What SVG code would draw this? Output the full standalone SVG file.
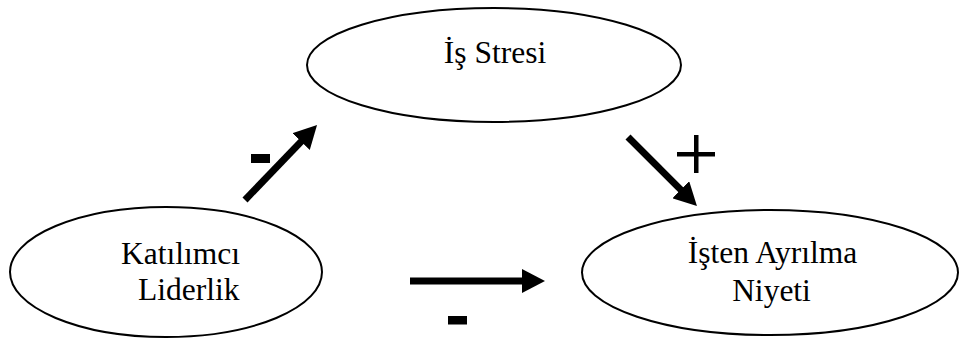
<svg xmlns="http://www.w3.org/2000/svg" width="960" height="340" viewBox="0 0 960 340">
<style>
.node ellipse{fill:#fff;stroke:#000;stroke-width:2}
.node text{font-family:"Liberation Serif","Times New Roman",serif;font-size:31.5px;fill:#000}
.edge{stroke:#000;stroke-width:7;fill:none;stroke-linecap:butt}
.sign{fill:#000}
</style>
<defs>
<marker id="ah" markerUnits="userSpaceOnUse" markerWidth="24" markerHeight="24" refX="1" refY="12" orient="auto">
<path d="M0,0 L23,12 L0,24 z" fill="#000"/>
</marker>
</defs>
<rect width="960" height="340" fill="#fff"/>
<g id="is-stresi" class="node">
<ellipse cx="494" cy="65" rx="187" ry="57"/>
<text x="495" y="63" text-anchor="middle">İş Stresi</text>
</g>
<g id="katilimci-liderlik" class="node">
<ellipse cx="166" cy="272" rx="156" ry="65"/>
<text x="121" y="264">Katılımcı</text>
<text x="138" y="300">Liderlik</text>
</g>
<g id="isten-ayrilma-niyeti" class="node">
<ellipse cx="770" cy="272.5" rx="188" ry="62.5"/>
<text x="772.5" y="263" text-anchor="middle">İşten Ayrılma</text>
<text x="771.5" y="301" text-anchor="middle">Niyeti</text>
</g>
<g id="connectors">
<line class="edge" x1="245" y1="200" x2="301.8" y2="140.9" marker-end="url(#ah)"/>
<line class="edge" x1="628" y1="137" x2="681.4" y2="190.4" marker-end="url(#ah)"/>
<line class="edge" x1="410" y1="281" x2="523" y2="281" marker-end="url(#ah)"/>
<rect class="sign" x="251" y="154" width="19" height="9"/>
<rect class="sign" x="448" y="316" width="19" height="8.5"/>
<rect class="sign" x="677" y="152" width="38" height="4.5"/>
<rect class="sign" x="694" y="135" width="4.5" height="38"/>
</g>
</svg>
